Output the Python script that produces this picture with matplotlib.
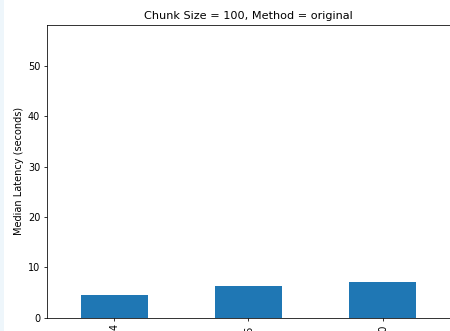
import matplotlib
matplotlib.use("Agg")
import matplotlib.pyplot as plt
from matplotlib.patches import Rectangle

categories = ["4", "16", "20"]
values = [4.44, 6.18, 6.97]
title = "Chunk Size = 100, Method = original"
ylabel = "Median Latency (seconds)"
yticks = [0, 10, 20, 30, 40, 50]

s = 0.7
fig = plt.figure(figsize=(4.5, 3.31), dpi=100)
fig.patch.set_facecolor("white")
fig.add_artist(Rectangle((0, 0), 4/450, 1, transform=fig.transFigure,
                         facecolor="#eef6fb", edgecolor="none", zorder=0))

ax = fig.add_axes([47/450, 13.5/331, 1 - 47/450, (317.5 - 25)/331])
x = list(range(len(categories)))
ax.bar(x, values, width=0.5, color="#1f77b4")
ax.set_xlim(-0.5, len(categories) - 0.5)
ax.set_ylim(0, 58.15)
ax.set_xticks(x)
ax.set_xticklabels(categories, rotation=90, fontsize=10 * s)
ax.set_yticks(yticks)
ax.tick_params(axis="y", labelsize=10 * s)
ax.tick_params(length=3.5 * s, width=0.8 * s, pad=3.5 * s)
for sp in ax.spines.values():
    sp.set_linewidth(0.8 * s)
ax.set_title(title, fontsize=8.1, pad=6 * s)
ax.set_ylabel(ylabel, fontsize=10 * s, labelpad=4 * s)

fig.savefig("out.png", dpi=100)
